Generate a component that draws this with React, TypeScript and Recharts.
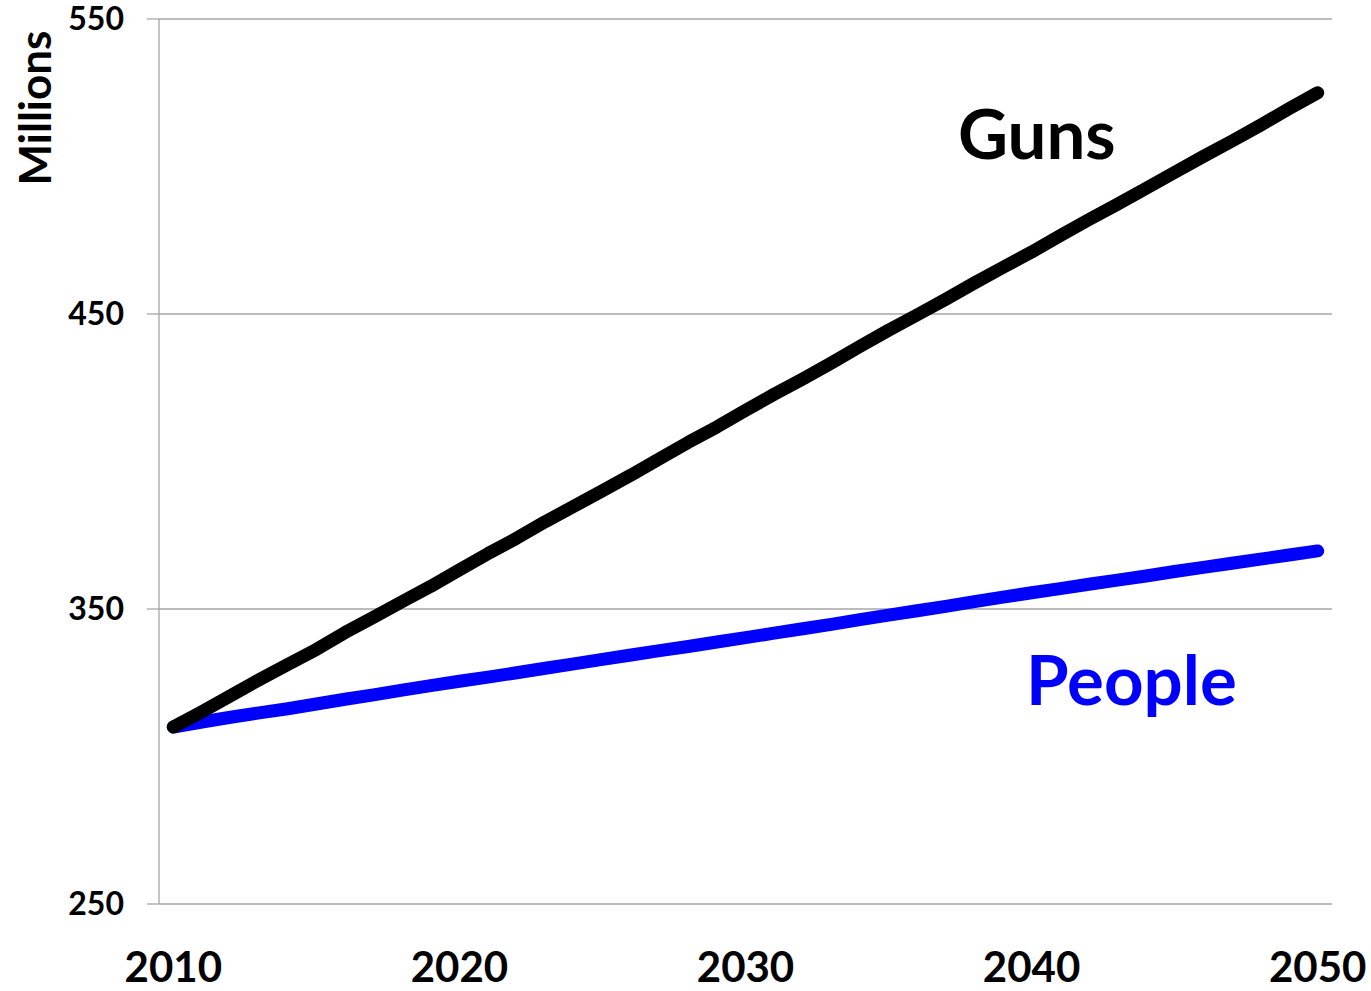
import { CartesianGrid, Line, LineChart, XAxis, YAxis } from 'recharts';

const years = [
  2010, 2011, 2012, 2013, 2014, 2015, 2016, 2017, 2018, 2019, 2020, 2021, 2022, 2023, 2024, 2025, 2026, 2027, 2028,
  2029, 2030, 2031, 2032, 2033, 2034, 2035, 2036, 2037, 2038, 2039, 2040, 2041, 2042, 2043, 2044, 2045, 2046, 2047,
  2048, 2049, 2050,
];

const guns = [
  310.0, 315.2, 320.6, 326.0, 331.2, 336.3, 342.0, 347.2, 352.5, 357.7, 363.3, 368.8, 374.0, 379.6, 384.8, 390.1,
  395.4, 401.0, 406.5, 411.7, 417.3, 422.8, 428.0, 433.4, 439.0, 444.5, 449.7, 455.0, 460.5, 465.8, 471.0, 476.6,
  482.0, 487.2, 492.6, 498.0, 503.4, 508.6, 514.0, 519.6, 525.0,
];

const people = [
  310.0, 311.7, 313.3, 314.8, 316.2, 317.8, 319.4, 320.9, 322.5, 324.0, 325.5, 326.9, 328.4, 329.9, 331.4, 332.9,
  334.4, 335.9, 337.3, 338.8, 340.3, 341.8, 343.3, 344.8, 346.4, 347.9, 349.4, 350.9, 352.5, 354.0, 355.5, 356.9,
  358.4, 359.8, 361.2, 362.7, 364.1, 365.5, 366.9, 368.3, 369.7,
];

const xTicks = [2010, 2020, 2030, 2040, 2050];
const yTicks = [250, 350, 450, 550];

const data = years.map((year, i) => ({ year, guns: guns[i], people: people[i] }));

const font = 'Lato, "Open Sans", sans-serif';
const gridColor = '#a6a6a6';

export default function App() {
  return (
    <div style={{ position: 'absolute', left: 0, top: 0, width: 1371, height: 991, background: '#fff', fontFamily: font }}>
      <LineChart width={1371} height={991} data={data} margin={{ top: 19, right: 39, bottom: 27, left: 79 }}>
        <CartesianGrid horizontal vertical={false} stroke={gridColor} strokeWidth={1.3} />
        <XAxis
          dataKey="year"
          type="number"
          domain={[2009.5, 2050.5]}
          ticks={xTicks}
          axisLine={false}
          tickLine={false}
          height={60}
          tickMargin={42}
          tick={{ fill: '#000', fontSize: 42, fontWeight: 700, fontFamily: font }}
        />
        <YAxis
          type="number"
          domain={[250, 550]}
          ticks={yTicks}
          width={80}
          tickSize={12}
          tickMargin={23}
          axisLine={{ stroke: gridColor, strokeWidth: 1.3 }}
          tickLine={{ stroke: gridColor, strokeWidth: 1.3 }}
          tick={{ fill: '#000', fontSize: 32, fontWeight: 700, fontFamily: font }}
        />
        <Line
          type="linear"
          dataKey="people"
          stroke="#0000ff"
          strokeWidth={13}
          strokeLinecap="round"
          strokeLinejoin="round"
          dot={false}
          isAnimationActive={false}
        />
        <Line
          type="linear"
          dataKey="guns"
          stroke="#000"
          strokeWidth={13}
          strokeLinecap="round"
          strokeLinejoin="round"
          dot={false}
          isAnimationActive={false}
        />
      </LineChart>
      <div
        style={{
          position: 'absolute',
          left: 34,
          top: 108,
          transform: 'translate(-50%, -50%) rotate(-90deg)',
          fontSize: 44,
          fontWeight: 700,
          lineHeight: 1,
          whiteSpace: 'nowrap',
        }}
      >
        Millions
      </div>
      <div style={{ position: 'absolute', left: 958, top: 98, fontSize: 69, fontWeight: 700, lineHeight: 1, color: '#000' }}>
        Guns
      </div>
      <div
        style={{ position: 'absolute', left: 1026, top: 644, fontSize: 69, fontWeight: 700, lineHeight: 1, color: '#0000ff' }}
      >
        People
      </div>
    </div>
  );
}
